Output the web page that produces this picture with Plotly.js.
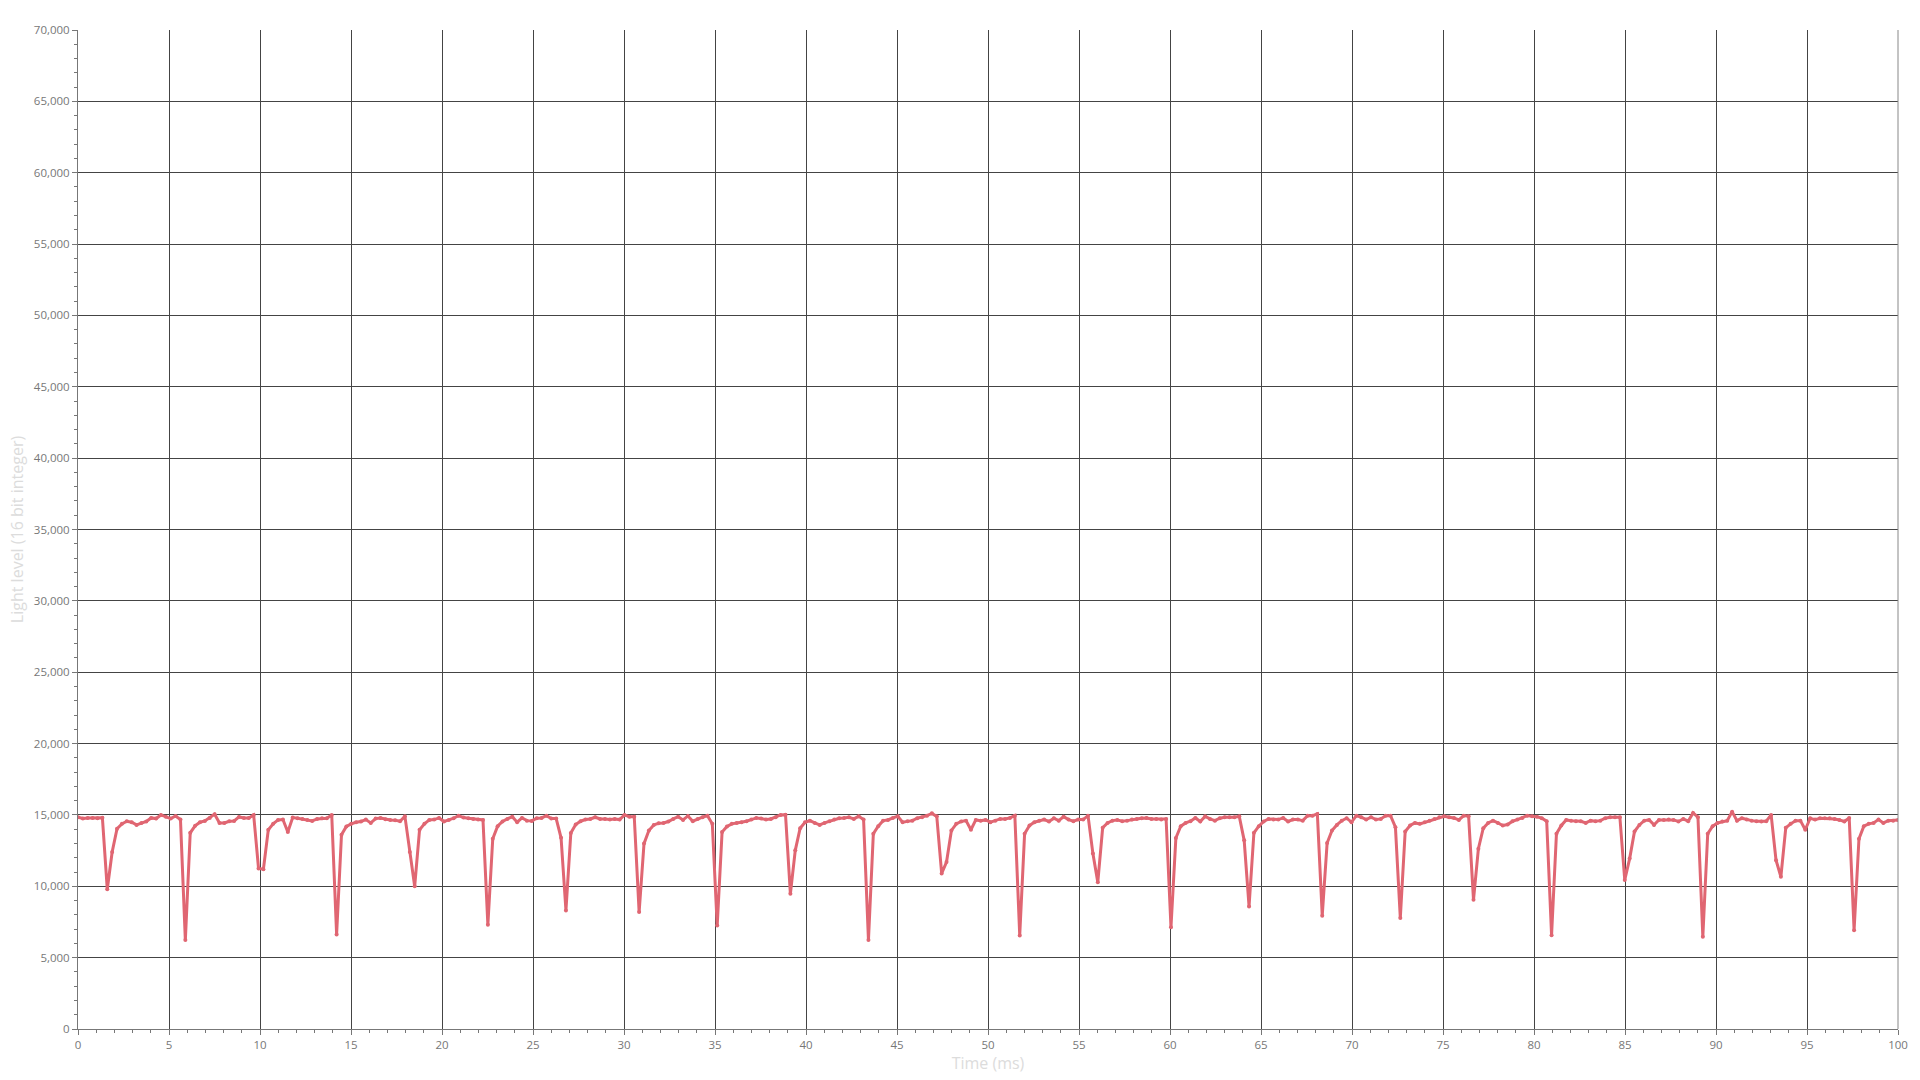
<!DOCTYPE html>
<html>
<head>
<meta charset="utf-8">
<script src="https://cdn.plot.ly/plotly-3.0.1.min.js"></script>
<style>
  html, body { margin: 0; padding: 0; background: #ffffff; }
  #chart { width: 1920px; height: 1080px; }
</style>
</head>
<body>
<div id="chart"></div>
<script>
// Sampling: first sample at 0 ms, 374 samples spanning 0..100 ms
const startTime = 0;
const sampleInterval = 100 / 373;

// Light level readings (16 bit integer)
const lightLevel = [
  14840, 14750, 14790, 14790, 14770, 14800, 9790, 12400, 14030, 14375,
  14560, 14490, 14300, 14440, 14540, 14790, 14745, 15000, 14880, 14745,
  14930, 14675, 6230, 13750, 14240, 14490, 14580, 14790, 15050, 14440,
  14440, 14560, 14580, 14860, 14790, 14790, 15000, 11250, 11200, 13960,
  14375, 14650, 14675, 13800, 14815, 14770, 14720, 14650, 14580, 14720,
  14770, 14770, 15000, 6620, 13610, 14190, 14375, 14490, 14540, 14675,
  14440, 14745, 14790, 14700, 14650, 14630, 14560, 14900, 12400, 10000,
  13960, 14375, 14650, 14675, 14790, 14540, 14650, 14770, 14950, 14815,
  14770, 14720, 14675, 14650, 7300, 13330, 14210, 14540, 14720, 14880,
  14490, 14790, 14600, 14580, 14770, 14790, 14950, 14745, 14745, 13400,
  8310, 13730, 14330, 14560, 14675, 14720, 14840, 14720, 14720, 14675,
  14720, 14675, 15000, 14880, 14880, 8190, 12990, 13910, 14300, 14420,
  14440, 14540, 14720, 14880, 14650, 14930, 14560, 14720, 14840, 14950,
  14375, 7245, 13800, 14190, 14375, 14440, 14490, 14560, 14675, 14790,
  14745, 14675, 14720, 14840, 15000, 15020, 9470, 12520, 14070, 14490,
  14600, 14440, 14300, 14440, 14560, 14675, 14770, 14790, 14840, 14720,
  14900, 14675, 6230, 13680, 14210, 14600, 14650, 14790, 14900, 14490,
  14560, 14600, 14770, 14840, 14950, 15110, 14900, 10900, 11700, 13910,
  14375, 14540, 14600, 13960, 14650, 14600, 14650, 14490, 14600, 14720,
  14720, 14790, 14950, 6550, 13680, 14260, 14490, 14600, 14675, 14540,
  14770, 14600, 14880, 14675, 14560, 14675, 14675, 14950, 12290, 10280,
  14100, 14440, 14600, 14650, 14560, 14600, 14675, 14720, 14770, 14790,
  14720, 14720, 14675, 14720, 7130, 13380, 14210, 14440, 14560, 14790,
  14540, 14900, 14720, 14600, 14770, 14840, 14840, 14840, 14900, 13220,
  8590, 13750, 14210, 14540, 14720, 14675, 14675, 14790, 14540, 14675,
  14675, 14600, 14950, 14950, 15070, 7940, 13030, 13910, 14300, 14600,
  14770, 14490, 14950, 14840, 14675, 14840, 14675, 14720, 14950, 14950,
  14140, 7780, 13840, 14260, 14440, 14375, 14490, 14600, 14720, 14840,
  14900, 14840, 14790, 14650, 14950, 14900, 9050, 12630, 14070, 14440,
  14600, 14440, 14260, 14330, 14560, 14675, 14790, 14950, 14900, 14880,
  14770, 14560, 6570, 13680, 14260, 14650, 14600, 14560, 14560, 14440,
  14600, 14560, 14600, 14770, 14840, 14840, 14840, 10440, 11940, 13840,
  14300, 14600, 14650, 14300, 14650, 14650, 14675, 14650, 14540, 14720,
  14560, 15140, 14840, 6460, 13680, 14210, 14440, 14540, 14600, 15230,
  14600, 14770, 14675, 14600, 14560, 14540, 14560, 15000, 11830, 10670,
  14100, 14375, 14600, 14600, 13960, 14770, 14675, 14770, 14770, 14770,
  14720, 14650, 14540, 14790, 6920, 13330, 14210, 14375, 14440, 14675,
  14440, 14600, 14600, 14650
];

const xAxisTitle = 'Time (ms)';
const yAxisTitle = 'Light level (16 bit integer)';

const lineColor = 'rgb(224,102,114)';
const gridColor = '#444444';
const axisColor = '#777777';
const tickFontColor = '#777777';
const titleFontColor = '#dcdcdc';
const fontFamily = '"Open Sans", "Noto Sans", sans-serif';

const trace = {
  type: 'scatter',
  mode: 'lines+markers',
  x0: startTime,
  dx: sampleInterval,
  y: lightLevel,
  line: { color: lineColor, width: 3 },
  marker: { color: lineColor, size: 4 },
  hoverinfo: 'x+y'
};

const layout = {
  width: 1920,
  height: 1080,
  margin: { l: 78, r: 22, t: 30, b: 51 },
  paper_bgcolor: '#ffffff',
  plot_bgcolor: '#ffffff',
  showlegend: false,
  font: { family: fontFamily, size: 11.5, color: tickFontColor },
  xaxis: {
    range: [0, 100],
    dtick: 5,
    tick0: 0,
    showgrid: true,
    gridcolor: gridColor,
    gridwidth: 1,
    zeroline: false,
    showline: true,
    linecolor: axisColor,
    linewidth: 1,
    ticks: 'outside',
    ticklen: 5,
    tickwidth: 1,
    tickcolor: axisColor,
    minor: { dtick: 1, ticks: 'outside', ticklen: 3, tickwidth: 1, tickcolor: axisColor, showgrid: false },
    tickfont: { family: fontFamily, size: 11.5, color: tickFontColor },
    title: { text: xAxisTitle, font: { family: fontFamily, size: 16, color: titleFontColor }, standoff: 4 },
    fixedrange: true
  },
  yaxis: {
    range: [0, 70000],
    dtick: 5000,
    tick0: 0,
    tickformat: ',d',
    showgrid: true,
    gridcolor: gridColor,
    gridwidth: 1,
    zeroline: false,
    showline: true,
    linecolor: axisColor,
    linewidth: 1,
    ticks: 'outside',
    ticklen: 5,
    tickwidth: 1,
    tickcolor: axisColor,
    minor: { dtick: 1000, ticks: 'outside', ticklen: 3, tickwidth: 1, tickcolor: axisColor, showgrid: false },
    tickfont: { family: fontFamily, size: 11.5, color: tickFontColor },
    title: { text: yAxisTitle, font: { family: fontFamily, size: 16, color: titleFontColor }, standoff: 6 },
    fixedrange: true
  },
  shapes: [
    { type: 'line', xref: 'paper', yref: 'paper', x0: 1, x1: 1, y0: 0, y1: 1,
      line: { color: '#888888', width: 1 } }
  ]
};

Plotly.newPlot('chart', [trace], layout, { displayModeBar: false, staticPlot: true });
</script>
</body>
</html>
